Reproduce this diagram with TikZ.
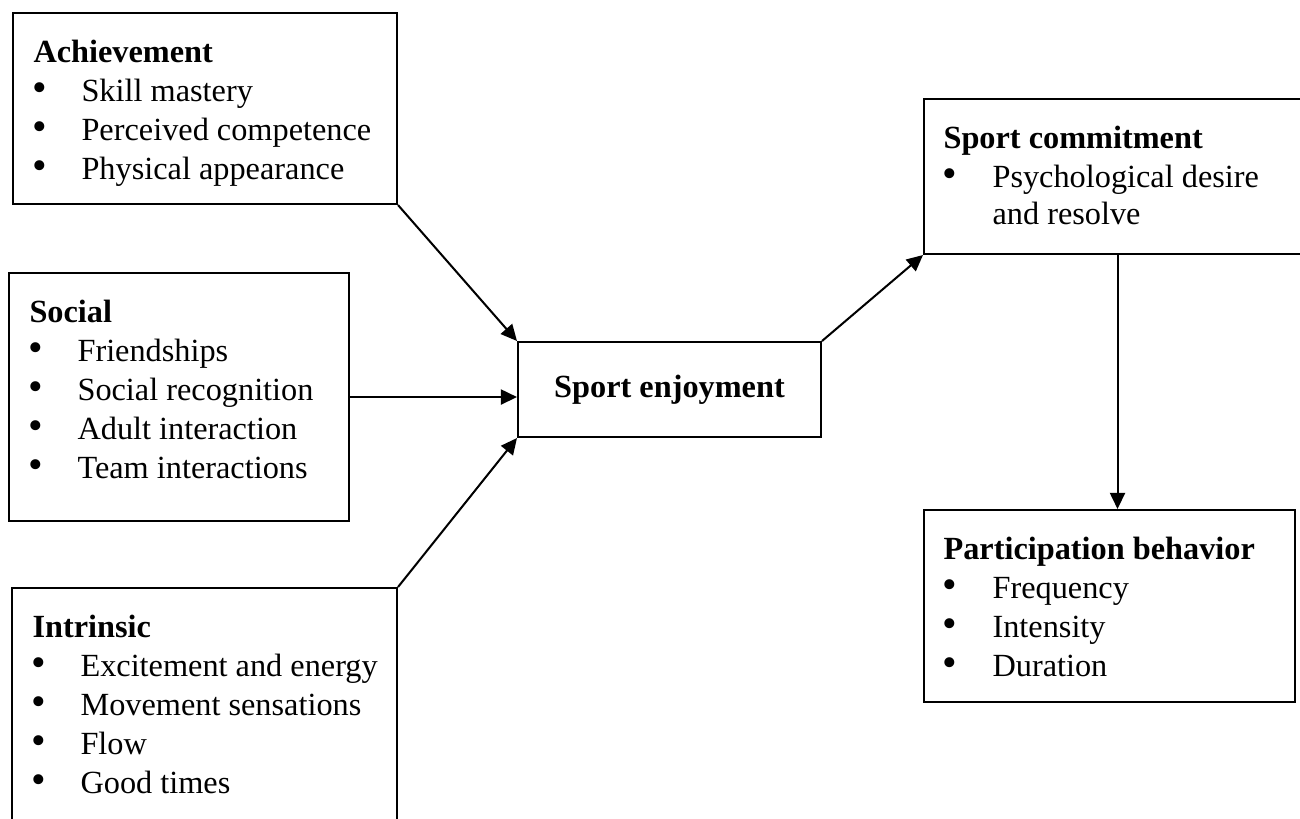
\documentclass[tikz,border=0pt]{standalone}
\usepackage{fontspec}
\setmainfont{Liberation Serif}
\usepackage{tikz}
\usetikzlibrary{positioning}
\usetikzlibrary{arrows.meta,calc}
\def\pxu{0.3715pt}
\newcommand{\basefont}{\fontsize{12}{14.5}\selectfont}
\tikzstyle{box}=[draw,line width=0.75pt,anchor=north west,inner sep=0pt]
\tikzstyle{head}=[anchor=base west,inner sep=0pt,font=\basefont\bfseries]
\tikzstyle{item}=[anchor=base west,inner sep=0pt,font=\basefont]
\tikzstyle{dot}=[anchor=base,inner sep=0pt,font=\fontsize{15.5}{15.5}\selectfont]
\tikzstyle{edge}=[draw,line width=0.75pt,-{Triangle[length=6pt,width=5.6pt]}]

\begin{document}
\begin{tikzpicture}[x=0.3715pt,y=-0.3715pt]
   \useasboundingbox (0,0) rectangle (1300,818);

   % achievement
   \def\dx{12}
   \def\dy{12}
   \node[box,minimum width=384*\pxu,minimum height=191*\pxu] (achv) at (\dx,\dy) {};
   \node[head] (achvhead) at (\dx+21,\dy+50) {Achievement};
   \foreach \i/\txt in {1/Skill mastery, 2/Perceived competence, 3/Physical appearance} {
      \node[dot] (achvdot\i) at (\dx+28,\dy+50+39*\i) {\textbullet};
      \node[item] (achvitem\i) at (\dx+69,\dy+50+39*\i) {\txt};
   }

   % social
   \def\dx{8}
   \def\dy{272}
   \node[box,minimum width=340*\pxu,minimum height=248*\pxu] (soc) at (\dx,\dy) {};
   \node[head] (sochead) at (\dx+21,\dy+50) {Social};
   \foreach \i/\txt in {1/Friendships, 2/Social recognition, 3/Adult interaction, 4/Team interactions} {
      \node[dot] (socdot\i) at (\dx+28,\dy+50+39*\i) {\textbullet};
      \node[item] (socitem\i) at (\dx+69,\dy+50+39*\i) {\txt};
   }

   % intrinsic
   \def\dx{11}
   \def\dy{587}
   \node[box,minimum width=385*\pxu,minimum height=253*\pxu] (intr) at (\dx,\dy) {};
   \node[head] (intrhead) at (\dx+21,\dy+50) {Intrinsic};
   \foreach \i/\txt in {1/Excitement and energy, 2/Movement sensations, 3/Flow, 4/Good times} {
      \node[dot] (intrdot\i) at (\dx+28,\dy+50+39*\i) {\textbullet};
      \node[item] (intritem\i) at (\dx+69,\dy+50+39*\i) {\txt};
   }

   % enjoyment
   \node[box,anchor=center,minimum width=303*\pxu,minimum height=95*\pxu,font=\basefont\bfseries] (enjoy) at (669.5,389.5) {Sport enjoyment};

   % commitment
   \def\dx{923}
   \def\dy{98}
   \node[box,minimum width=387*\pxu,minimum height=155*\pxu] (commit) at (\dx,\dy) {};
   \node[head] (commithead) at (\dx+20,\dy+50) {Sport commitment};
   \node[dot] (commitdot1) at (\dx+27,\dy+89) {\textbullet};
   \node[item] (commititem1) at (\dx+69,\dy+89) {Psychological desire};
   \node[item] (commititem1b) at (\dx+69,\dy+126) {and resolve};

   % participation
   \def\dx{923}
   \def\dy{509}
   \node[box,minimum width=371*\pxu,minimum height=192*\pxu] (part) at (\dx,\dy) {};
   \node[head] (parthead) at (\dx+20,\dy+50) {Participation behavior};
   \foreach \i/\txt in {1/Frequency, 2/Intensity, 3/Duration} {
      \node[dot] (partdot\i) at (\dx+27,\dy+50+39*\i) {\textbullet};
      \node[item] (partitem\i) at (\dx+69,\dy+50+39*\i) {\txt};
   }

   % links
   \path[edge] (achv.south east) -- (enjoy.north west);
   \path[edge] (soc.east) -- (soc.east -| enjoy.west);
   \path[edge] (intr.north east) -- (enjoy.south west);
   \path[edge] (enjoy.north east) -- (commit.south west);
   \path[edge] (commit.south) -- (commit.south |- part.north);

\end{tikzpicture}
\end{document}
